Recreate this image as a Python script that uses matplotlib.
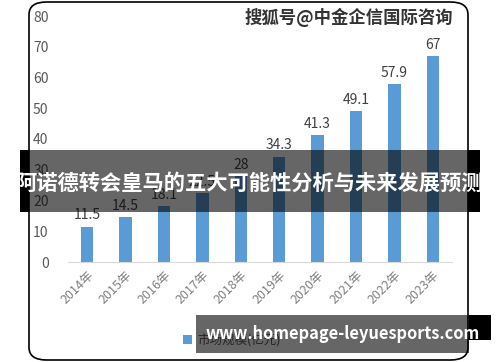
import matplotlib.pyplot as plt
from matplotlib.patches import FancyBboxPatch, Rectangle

plt.rcParams['font.family'] = ['Noto Sans CJK SC', 'DejaVu Sans']

years = ['2014年', '2015年', '2016年', '2017年', '2018年',
         '2019年', '2020年', '2021年', '2022年', '2023年']
values = [11.5, 14.5, 18.1, 22.5, 28, 34.3, 41.3, 49.1, 57.9, 67]
series_name = '市场规模(亿元)'
title_text = '阿诺德转会皇马的五大可能性分析与未来发展预测'
watermark = '搜狐号@中金企信国际咨询'
site_text = 'www.homepage-leyuesports.com'

W, H = 500, 362
fig = plt.figure(figsize=(W / 100, H / 100), dpi=100)


def fx(x):
    return x / W


def fy(y):
    return 1 - y / H


# rounded card border
card = FancyBboxPatch((fx(29), fy(360)), fx(468) - fx(29), fy(2) - fy(360),
                      boxstyle='round,pad=0,rounding_size=0.035',
                      transform=fig.transFigure, facecolor='white',
                      edgecolor='black', linewidth=1.2, zorder=0)
fig.add_artist(card)

ax = fig.add_axes([fx(68), fy(262), fx(452) - fx(68), fy(16) - fy(262)])
ax.set_zorder(1)
ax.patch.set_alpha(0)
x = range(len(years))
bars = ax.bar(x, values, width=0.32, color='#5B9BD5', label=series_name)
for xi, v in zip(x, values):
    ax.annotate(f'{v:g}', (xi, v), xytext=(0, 3), textcoords='offset points',
                ha='center', va='bottom', fontsize=10, color='#404040')

ax.set_xlim(-0.5, len(years) - 0.5)
ax.set_ylim(0, 80)
ax.set_yticks(range(0, 81, 10))
ax.set_xticks(list(x))
ax.set_xticklabels(years, rotation=45, ha='right', rotation_mode='anchor',
                   fontsize=9, color='#7f7f7f')
ax.tick_params(axis='y', length=0, pad=14, labelsize=10, labelcolor='#595959')
ax.tick_params(axis='x', length=0, pad=5)
for s in ['top', 'right', 'left']:
    ax.spines[s].set_visible(False)
ax.spines['bottom'].set_color('#d9d9d9')

fig.legend(handles=[bars], labels=[series_name], loc='center',
           bbox_to_anchor=(fx(232), fy(340)), frameon=False, fontsize=9,
           labelcolor='#595959', handlelength=0.7, handleheight=0.7,
           handletextpad=0.4)

fig.text(fx(453), fy(17), watermark, ha='right', va='center', fontsize=12.5,
         fontweight='bold', color='#333333', zorder=5)

# dark title band
fig.add_artist(Rectangle((fx(20), fy(212)), fx(480) - fx(20), fy(150) - fy(212),
                         transform=fig.transFigure, facecolor='black',
                         alpha=0.6, zorder=10))
for x0, x1 in [(20, 29), (468, 480)]:
    fig.add_artist(Rectangle((fx(x0), fy(212)), fx(x1) - fx(x0), fy(150) - fy(212),
                             transform=fig.transFigure, facecolor='black', zorder=10))
fig.text(fx(249), fy(183), title_text, ha='center', va='center', fontsize=15.3,
         fontweight='bold', color='white', zorder=11)

# site box
fig.add_artist(Rectangle((fx(196), fy(353)), fx(469) - fx(196), fy(315) - fy(353),
                         transform=fig.transFigure, facecolor='black',
                         alpha=0.6, zorder=10))
fig.add_artist(Rectangle((fx(469), fy(340)), fx(491) - fx(469), fy(315) - fy(340),
                         transform=fig.transFigure, facecolor='black', zorder=10))
fig.text(fx(343), fy(334), site_text, ha='center', va='center', fontsize=11.8,
         fontweight='bold', color='white', zorder=11)

fig.savefig('out.png', dpi=100)
